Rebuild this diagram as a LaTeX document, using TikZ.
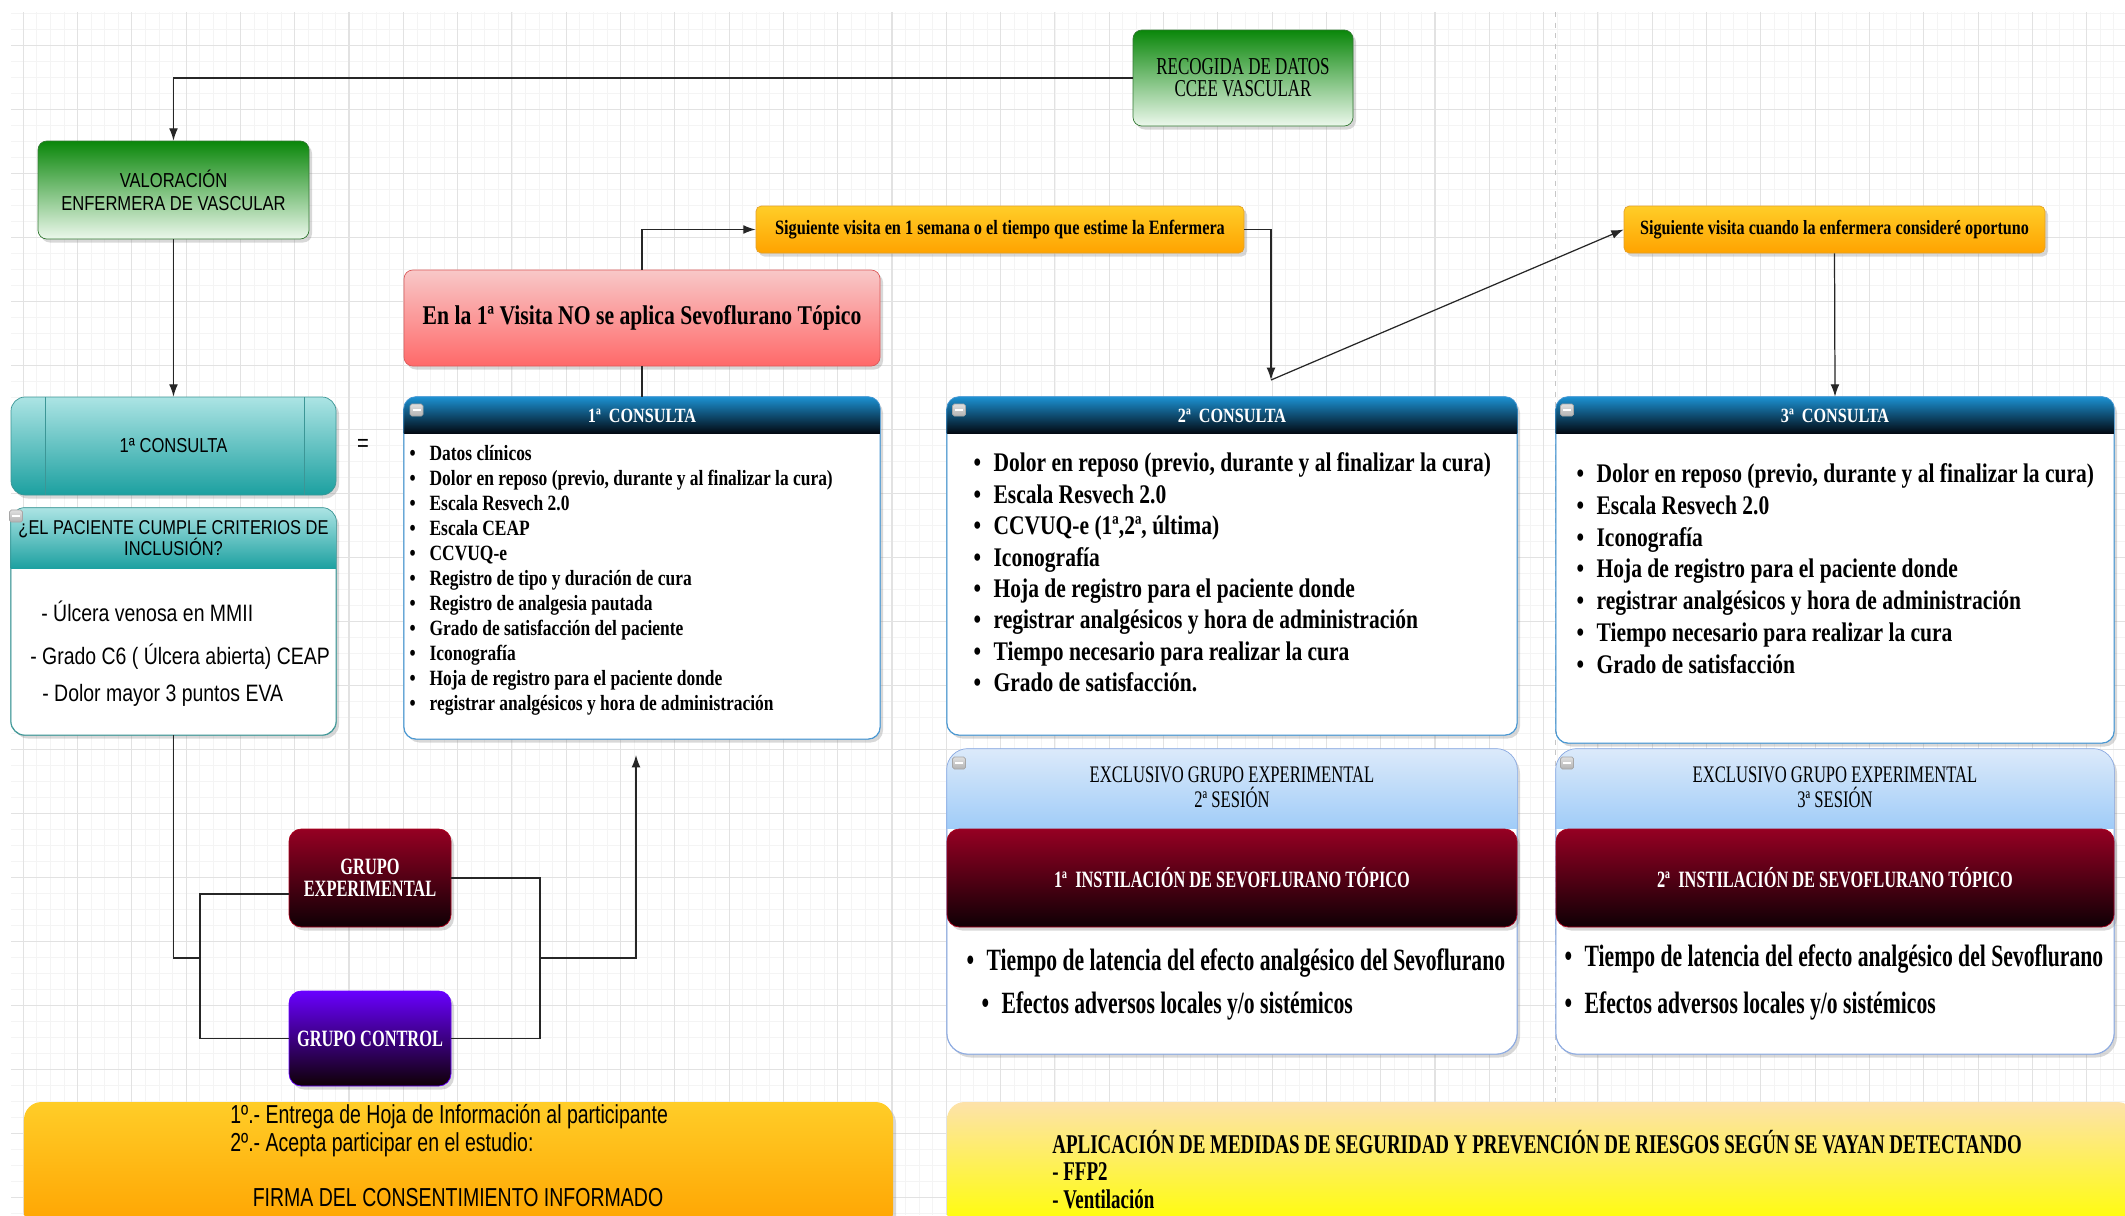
\documentclass[tikz,border=0pt]{standalone}
\usepackage{fontspec}
\setmainfont{Liberation Serif}
\newfontfamily\cserif[FakeStretch=0.8]{Liberation Serif}
\newfontfamily\nserif[FakeStretch=0.7]{Liberation Serif}
\newfontfamily\csans[FakeStretch=0.82]{Liberation Sans}
\newfontfamily\nsans[FakeStretch=0.75]{Liberation Sans}
\usetikzlibrary{arrows.meta, positioning, shadows}
\usepackage{xcolor}
\definecolor{vgreen}{RGB}{10, 135, 10}
\definecolor{vgreenlt}{RGB}{236, 248, 236}
\definecolor{vgreenbd}{RGB}{50, 120, 50}
\definecolor{vteal}{RGB}{28, 160, 160}
\definecolor{vteallt}{RGB}{172, 228, 228}
\definecolor{vtealbd}{RGB}{60, 150, 150}
\definecolor{vpink}{RGB}{248, 200, 200}
\definecolor{vred}{RGB}{255, 105, 105}
\definecolor{vredbd}{RGB}{220, 90, 90}
\definecolor{vyel}{RGB}{255, 205, 40}
\definecolor{vorange}{RGB}{255, 163, 0}
\definecolor{vorangebd}{RGB}{228, 160, 40}
\definecolor{vblue}{RGB}{28, 145, 210}
\definecolor{vnavy}{RGB}{2, 8, 16}
\definecolor{vbluebd}{RGB}{70, 150, 210}
\definecolor{vsky}{RGB}{160, 204, 248}
\definecolor{vskylt}{RGB}{220, 234, 250}
\definecolor{vskybd}{RGB}{140, 170, 225}
\definecolor{vwine}{RGB}{150, 0, 35}
\definecolor{vwinedk}{RGB}{15, 0, 5}
\definecolor{vpurple}{RGB}{105, 0, 255}
\definecolor{vpeach}{RGB}{253, 226, 170}
\definecolor{vlemon}{RGB}{255, 255, 0}
\definecolor{vgrid}{RGB}{226, 226, 226}
\definecolor{vgridlt}{RGB}{244, 244, 244}

\newcommand{\vitem}{\makebox[0.4cm][l]{\textbullet}}
% banda de cabecera: nodo, alto, color arriba, color abajo, radio, borde
\newcommand{\headband}[6]{%
  \begin{scope}
    \clip[rounded corners=#5] (#1.south west) rectangle (#1.north east);
    \shade[top color=#3, bottom color=#4] (#1.north west) rectangle ([yshift=-#2]#1.north east);
  \end{scope}
  \draw[#6, rounded corners=#5] (#1.south west) rectangle (#1.north east);}

\begin{document}
\begin{tikzpicture}[
  boxbase/.style={rectangle, rounded corners=5pt, inner sep=0pt, align=center,
                  drop shadow={shadow xshift=0.06cm, shadow yshift=-0.07cm, opacity=0.3}},
  greenbox/.style={boxbase, draw=vgreenbd, top color=vgreen, bottom color=vgreenlt},
  procbox/.style={boxbase, rounded corners=8pt, draw=vtealbd, top color=vteallt, bottom color=vteal,
                  path picture={
                    \draw[vtealbd] ([xshift=0.68cm]path picture bounding box.north west)
                      -- ([xshift=0.68cm]path picture bounding box.south west);
                    \draw[vtealbd] ([xshift=-0.64cm]path picture bounding box.north east)
                      -- ([xshift=-0.64cm]path picture bounding box.south east);}},
  critbox/.style={boxbase, rounded corners=8pt, draw=vtealbd, fill=white},
  redbox/.style={boxbase, draw=vredbd, top color=vpink, bottom color=vred},
  orangebox/.style={boxbase, rounded corners=3pt, draw=vorangebd, top color=vyel, bottom color=vorange},
  consbox/.style={boxbase, rounded corners=7pt, draw=vbluebd, fill=white},
  sesbox/.style={boxbase, rounded corners=12pt, draw=vskybd, fill=white},
  winebox/.style={boxbase, rounded corners=7pt, draw=vwine!80!red, top color=vwine,
                  bottom color=vwinedk, text=white},
  purplebox/.style={boxbase, rounded corners=7pt, draw=vpurple, top color=vpurple,
                    bottom color=vwinedk, text=white},
  firmabox/.style={boxbase, rounded corners=10pt, draw=none, top color=vyel, bottom color=vorange},
  medbox/.style={boxbase, rounded corners=10pt, draw=none, top color=vpeach, bottom color=vlemon},
  mini/.style={rectangle, rounded corners=1pt, minimum width=0.26cm, minimum height=0.24cm,
               inner sep=0pt, draw=gray!70, top color=gray!25, bottom color=gray!60,
               path picture={\draw[white, line width=0.8pt]
                 ([xshift=0.05cm]path picture bounding box.west)
                 -- ([xshift=-0.05cm]path picture bounding box.east);}},
  constitle/.style={text=white, font=\cserif\bfseries\fontsize{11.5}{13}\selectfont},
  sestitle/.style={align=center, font=\nserif\fontsize{13.5}{14.2}\selectfont},
  listtxt/.style={align=left, inner sep=0pt, anchor=west},
  crittext/.style={inner sep=0pt, anchor=west, font=\csans\fontsize{13.5}{15}\selectfont},
  sestxt/.style={inner sep=0pt, anchor=west, font=\nserif\bfseries\fontsize{17.6}{19}\selectfont},
  gridminor/.style={vgridlt, line width=0.4pt},
  gridmajor/.style={vgrid, line width=0.6pt},
  arr/.style={-{Latex[length=7pt, width=5pt]}, line width=0.7pt, black!85},
  wire/.style={line width=0.7pt, black!85}
]
\useasboundingbox (0,0) rectangle (42.5,-24.3);

% fondo cuadriculado
\fill[white] (0,0) rectangle (42.5,-24.3);
\begin{scope}
  \clip (0.22,-0.24) rectangle (42.5,-24.3);
  \foreach \i in {0,...,156} \draw[gridminor] ({0.1925+0.2715*\i},0) -- ++(0,-24.3);
  \foreach \j in {0,...,76} \draw[gridminor] (0,{-0.274-0.32*\j}) -- ++(42.5,0);
  \foreach \i in {0,...,39} \draw[gridmajor] ({0.464+1.086*\i},0) -- ++(0,-24.3);
  \foreach \j in {0,...,19} \draw[gridmajor] (0,{-0.914-1.28*\j}) -- ++(42.5,0);
\end{scope}
\draw[gray!45, dashed, line width=0.7pt] (31.11,-0.24) -- (31.11,-24.3);

% columna izquierda
\node[greenbox, font=\nserif\fontsize{13.8}{12.5}\selectfont, minimum width=4.4cm,
      minimum height=1.92cm] (recog) at (24.86,-1.56) {RECOGIDA DE DATOS\\CCEE VASCULAR};
\node[greenbox, font=\csans\fontsize{11.5}{13}\selectfont, minimum width=5.42cm,
      minimum height=1.96cm] (valor) at (3.47,-3.80) {VALORACIÓN\\ENFERMERA DE VASCULAR};
\node[procbox, font=\csans\fontsize{11.5}{12}\selectfont, minimum width=6.5cm,
      minimum height=1.96cm] (c1tab) at (3.47,-8.92) {1ª CONSULTA};
\node[font=\csans\fontsize{14}{14}\selectfont] (eq) at (7.26,-8.90) {=};

\node[critbox, minimum width=6.5cm, minimum height=4.54cm] (crit) at (3.47,-12.43) {};
\headband{crit}{1.22cm}{vteallt}{vteal}{8pt}{vtealbd}
\node[mini] (critm) at (0.32,-10.32) {};
\node[align=center, font=\csans\fontsize{11.4}{12}\selectfont] (crith) at (3.47,-10.76)
  {¿EL PACIENTE CUMPLE CRITERIOS DE\\INCLUSIÓN?};
\node[crittext] (crit1) at (0.82,-12.22) {- Úlcera venosa en MMII};
\node[crittext] (crit2) at (0.60,-13.14) {- Grado C6 ( Úlcera abierta) CEAP};
\node[crittext] (crit3) at (0.84,-13.90) {- Dolor mayor 3 puntos EVA};

% primera visita
\node[redbox, font=\cserif\bfseries\fontsize{15.4}{16}\selectfont, minimum width=9.52cm,
      minimum height=1.92cm] (visita) at (12.84,-6.36)
  {En la 1ª Visita NO se aplica Sevoflurano Tópico};
\node[orangebox, font=\cserif\bfseries\fontsize{11.6}{13}\selectfont, minimum width=9.76cm,
      minimum height=0.94cm] (sig1) at (20.0,-4.59)
  {Siguiente visita en 1 semana o el tiempo que estime la Enfermera};
\node[orangebox, font=\cserif\bfseries\fontsize{11.5}{13}\selectfont, minimum width=8.42cm,
      minimum height=0.94cm] (sig2) at (36.69,-4.59)
  {Siguiente visita cuando la enfermera consideré oportuno};

% consultas
\node[consbox, minimum width=9.52cm, minimum height=6.84cm] (cons1) at (12.84,-11.36) {};
\headband{cons1}{0.74cm}{vblue}{vnavy}{7pt}{vbluebd}
\node[mini] (cons1m) at (8.33,-8.20) {};
\node[constitle] (cons1t) at (12.84,-8.31) {1ª~ CONSULTA};
\node[listtxt, font=\cserif\bfseries\fontsize{12.4}{14.23}\selectfont] (cons1l) at (8.185,-11.61)
  {\vitem Datos clínicos\\
   \vitem Dolor en reposo (previo, durante y al finalizar la cura)\\
   \vitem Escala Resvech 2.0\\
   \vitem Escala CEAP\\
   \vitem CCVUQ-e\\
   \vitem Registro de tipo y duración de cura\\
   \vitem Registro de analgesia pautada\\
   \vitem Grado de satisfacción del paciente\\
   \vitem Iconografía\\
   \vitem Hoja de registro para el paciente donde\\
   \vitem registrar analgésicos y hora de administración};

\node[consbox, minimum width=11.4cm, minimum height=6.76cm] (cons2) at (24.64,-11.32) {};
\headband{cons2}{0.74cm}{vblue}{vnavy}{7pt}{vbluebd}
\node[mini] (cons2m) at (19.18,-8.20) {};
\node[constitle] (cons2t) at (24.64,-8.31) {2ª~ CONSULTA};
\node[listtxt, font=\cserif\bfseries\fontsize{15.3}{17.9}\selectfont] (cons2l) at (19.465,-11.45)
  {\vitem Dolor en reposo (previo, durante y al finalizar la cura)\\
   \vitem Escala Resvech 2.0\\
   \vitem CCVUQ-e (1ª,2ª, última)\\
   \vitem Iconografía\\
   \vitem Hoja de registro para el paciente donde\\
   \vitem registrar analgésicos y hora de administración\\
   \vitem Tiempo necesario para realizar la cura\\
   \vitem Grado de satisfacción.};

\node[consbox, minimum width=11.16cm, minimum height=6.92cm] (cons3) at (36.7,-11.40) {};
\headband{cons3}{0.74cm}{vblue}{vnavy}{7pt}{vbluebd}
\node[mini] (cons3m) at (31.34,-8.20) {};
\node[constitle] (cons3t) at (36.7,-8.31) {3ª~ CONSULTA};
\node[listtxt, font=\cserif\bfseries\fontsize{15.3}{18.05}\selectfont] (cons3l) at (31.525,-11.37)
  {\vitem Dolor en reposo (previo, durante y al finalizar la cura)\\
   \vitem Escala Resvech 2.0\\
   \vitem Iconografía\\
   \vitem Hoja de registro para el paciente donde\\
   \vitem registrar analgésicos y hora de administración\\
   \vitem Tiempo necesario para realizar la cura\\
   \vitem Grado de satisfacción};

% sesiones del grupo experimental
\node[sesbox, minimum width=11.4cm, minimum height=6.1cm] (ses2) at (24.64,-18.03) {};
\headband{ses2}{1.6cm}{vskylt}{vsky}{12pt}{vskybd}
\node[mini] (ses2m) at (19.18,-15.26) {};
\node[sestitle] (ses2t) at (24.64,-15.75) {EXCLUSIVO GRUPO EXPERIMENTAL\\2ª SESIÓN};
\node[winebox, font=\nserif\bfseries\fontsize{13.3}{14}\selectfont, minimum width=11.4cm,
      minimum height=1.96cm] (inst1) at (24.64,-17.56) {1ª~ INSTILACIÓN DE SEVOFLURANO TÓPICO};
\node[sestxt] (ses2a) at (19.325,-19.26)
  {\vitem Tiempo de latencia del efecto analgésico del Sevoflurano};
\node[sestxt] (ses2b) at (19.625,-20.12) {\vitem Efectos adversos locales y/o sistémicos};

\node[sesbox, minimum width=11.16cm, minimum height=6.1cm] (ses3) at (36.7,-18.03) {};
\headband{ses3}{1.6cm}{vskylt}{vsky}{12pt}{vskybd}
\node[mini] (ses3m) at (31.34,-15.26) {};
\node[sestitle] (ses3t) at (36.7,-15.75) {EXCLUSIVO GRUPO EXPERIMENTAL\\3ª SESIÓN};
\node[winebox, font=\nserif\bfseries\fontsize{13.3}{14}\selectfont, minimum width=11.16cm,
      minimum height=1.96cm] (inst2) at (36.7,-17.56) {2ª~ INSTILACIÓN DE SEVOFLURANO TÓPICO};
\node[sestxt] (ses3a) at (31.285,-19.18)
  {\vitem Tiempo de latencia del efecto analgésico del Sevoflurano};
\node[sestxt] (ses3b) at (31.285,-20.12) {\vitem Efectos adversos locales y/o sistémicos};

% grupos
\node[winebox, font=\nserif\bfseries\fontsize{13.3}{12.5}\selectfont, minimum width=3.24cm,
      minimum height=1.96cm] (gexp) at (7.40,-17.56) {GRUPO\\EXPERIMENTAL};
\node[purplebox, font=\nserif\bfseries\fontsize{13.3}{12.5}\selectfont, minimum width=3.24cm,
      minimum height=1.90cm] (gctl) at (7.40,-20.77) {GRUPO CONTROL};

% pie
\node[firmabox, minimum width=17.38cm, minimum height=2.56cm] (firma) at (9.17,-23.32) {};
\node[align=left, anchor=west, inner sep=0pt, font=\nsans\fontsize{14.8}{15.9}\selectfont]
  (firmatxt) at (4.6,-22.62)
  {1º.- Entrega de Hoja de Información al participante\\2º.- Acepta participar en el estudio:};
\node[inner sep=0pt, font=\nsans\fontsize{14.8}{15.9}\selectfont] (firmasig) at (9.16,-23.96)
  {FIRMA DEL CONSENTIMIENTO INFORMADO};
\node[medbox, minimum width=23.76cm, minimum height=2.56cm] (medidas) at (30.82,-23.32) {};
\node[align=left, anchor=west, inner sep=0pt, font=\nserif\bfseries\fontsize{15.4}{15.6}\selectfont]
  (medtxt) at (21.04,-23.39)
  {APLICACIÓN DE MEDIDAS DE SEGURIDAD Y PREVENCIÓN DE RIESGOS SEGÚN SE VAYAN DETECTANDO\\
   - FFP2\\- Ventilación};

% conexiones
\coordinate (meet) at (25.42,-7.60);
\coordinate (ljoin) at (4.00,-19.16);
\coordinate (rjoin) at (10.80,-19.16);
\coordinate (up) at (12.72,-15.10);

\draw[arr] (recog.west) -| (valor.north);
\draw[arr] (valor.south) -- (c1tab.north);
\draw[arr] (visita.north) |- (sig1.west);
\draw[wire] (visita.south) -- (cons1.north);
\draw[arr] (sig1.east) -| (meet);
\draw[arr] (meet) -- (sig2.west);
\draw[arr] (sig2.south) -- (cons3.north);
\draw[wire] (crit.south) |- (ljoin);
\draw[wire] ([yshift=-0.32cm]gexp.west) -| (ljoin) |- (gctl.west);
\draw[wire] (gexp.east) -| (rjoin) |- (gctl.east);
\draw[arr] (rjoin) -| (up);

\end{tikzpicture}
\end{document}
